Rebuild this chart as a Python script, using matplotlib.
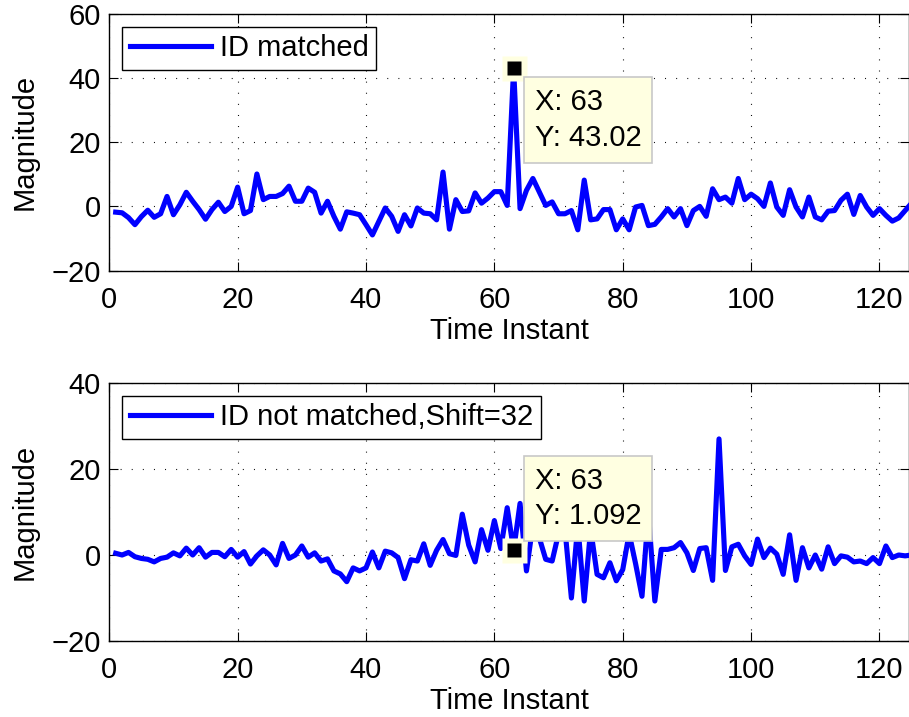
import numpy as np
import matplotlib
matplotlib.use('Agg')
import matplotlib.pyplot as plt

plt.rcParams['font.family'] = ['Liberation Sans', 'DejaVu Sans']
plt.rcParams['font.size'] = 21
plt.rcParams['lines.scale_dashes'] = False

# correlation output, ID matched (samples 1..125)
matched = [
    -1.8, -2.0, -3.5, -5.7, -3.2, -1.2, -3.4, -2.3, 3.1, -2.6,
    0.5, 4.4, 1.6, -1.0, -4.0, -1.0, 1.3, -1.6, 0.0, 6.0,
    -2.3, -1.3, 10.1, 2.1, 3.1, 3.1, 4.0, 6.3, 1.6, 1.6,
    5.7, 4.4, -2.1, 1.6, -3.1, -7.1, -1.7, -2.1, -2.6, -5.7,
    -8.9, -4.7, -0.5, -3.1, -7.8, -2.6, -6.1, -0.5, -2.1, -2.3,
    -4.2, 10.7, -7.1, 2.1, -1.6, -1.4, 4.2, 1.0, 2.6, 4.6,
    4.6, 0.3, 43.02, -0.7, 5.0, 8.7, 4.5, 0.3, 1.4, -2.3,
    -2.3, -1.3, -7.3, 8.2, -4.2, -3.9, -1.0, -1.0, -7.3, -3.9,
    -7.3, -0.2, 0.3, -6.0, -5.6, -3.3, -0.7, -3.3, -0.7, -6.0,
    -1.3, 0.0, -3.1, 5.5, 2.1, 2.9, 1.0, 8.7, 2.1, 3.8,
    2.4, 0.0, 7.3, -0.2, -2.8, 5.2, -0.2, -3.3, 2.9, -3.3,
    -4.2, -1.5, -1.3, 1.9, 3.8, -2.5, 3.4, -0.2, -2.8, -0.7,
    -2.8, -4.6, -3.6, -1.3, 1.0,
]

# correlation output, ID not matched (shift = 32)
not_matched = [
    0.4, 0.0, 0.6, -0.4, -0.8, -1.0, -1.6, -0.8, -0.5, 0.5,
    -0.2, 1.6, 0.0, 1.7, -0.5, 0.6, 0.6, -0.4, 1.3, -0.5,
    0.8, -2.1, -0.2, 1.2, 0.0, -2.3, 2.7, -0.8, 0.0, 2.1,
    -0.5, 0.5, -1.4, -0.9, -3.7, -4.4, -6.2, -3.0, -3.7, -3.0,
    0.7, -3.0, 0.9, 0.5, -0.6, -5.5, -1.1, -1.4, 2.6, -2.4,
    1.1, 3.6, 0.3, -0.1, 9.5, 2.3, -1.6, 5.9, 1.1, 8.0,
    1.5, 11.0, 1.092, 12.0, -3.7, 7.0, 4.0, -1.0, -1.4, 5.0,
    6.0, -10.0, 7.0, -10.7, 6.0, -4.5, -5.3, -1.8, -6.0, -3.4,
    5.0, -2.0, -9.6, 10.0, -10.7, 1.3, 1.3, 1.7, 2.9, 0.5,
    -3.6, 1.5, 1.7, -5.9, 27.0, -3.6, 1.9, 2.5, -0.2, -2.2,
    3.7, -0.6, 1.6, 0.2, -4.5, 4.7, -5.9, 1.7, -3.0, 0.0,
    -3.3, 1.9, -2.0, -0.2, -0.5, -1.6, -1.4, -2.0, -0.6, -2.0,
    2.1, -0.6, 0.0, -0.2, 0.0,
]

n = np.arange(1, len(matched) + 1)
tip_x = 63
xticks = [0, 20, 40, 60, 80, 100, 120]
panels = [
    (matched, 'ID matched', [-20, 0, 20, 40, 60], -1),
    (not_matched, 'ID not matched,Shift=32', [-20, 0, 20, 40], 1),
]

fig = plt.figure(figsize=(9.09, 7.17), dpi=100)
rects = [[0.1202, 0.6227, 0.8798, 0.3578], [0.1202, 0.1060, 0.8798, 0.3598]]
tip_bg = '#FFFFE1'

for rect, (vals, name, yt, side) in zip(rects, panels):
    ax = fig.add_axes(rect)
    ax.plot(n, vals, color='#0000FF', lw=3.7, label=name, zorder=3,
            solid_joinstyle='round')
    ax.set_xlim(0, 124.6)
    ax.set_ylim(yt[0], yt[-1])
    ax.set_xticks(xticks)
    ax.set_yticks(yt)
    ax.grid(True, color='k', lw=0.8, linestyle=(0, (0.7, 7.3)))
    ax.tick_params(direction='in', length=6.5, width=0.8, top=True, right=True)
    ax.tick_params(axis='x', pad=11)
    ax.tick_params(axis='y', pad=6)
    for sp in ax.spines.values():
        sp.set_linewidth(1.0)
    ax.set_xlabel('Time Instant', va='top')
    ax.xaxis.set_label_coords(0.5, -0.18)
    ax.set_ylabel('Magnitude')
    ax.yaxis.set_label_coords(-0.088, 0.5)

    leg = ax.legend(loc='upper left', handlelength=2.8, handletextpad=0.3,
                    borderpad=0.25, borderaxespad=0.45, fancybox=False,
                    framealpha=1, edgecolor='k')
    leg.get_frame().set_linewidth(1.0)

    # data tip
    ty = vals[tip_x - 1]
    ax.plot([tip_x], [ty], 's', ms=18, color=tip_bg, mec='none', zorder=6,
            clip_on=False)
    ax.plot([tip_x], [ty], 's', ms=9.4, color='k', mec='none', zorder=7,
            clip_on=False)
    label = f'X: {tip_x}\nY: {ty:.4g}'
    ax.annotate(label, xy=(tip_x, ty), xytext=(21, 20 * side),
                textcoords='offset pixels', ha='left',
                va='top' if side < 0 else 'bottom', zorder=8,
                linespacing=1.35,
                bbox=dict(boxstyle='square,pad=0.38', fc=tip_bg,
                          ec='#C8C8C8', lw=1.2))

fig.savefig('out.png', dpi=100)
